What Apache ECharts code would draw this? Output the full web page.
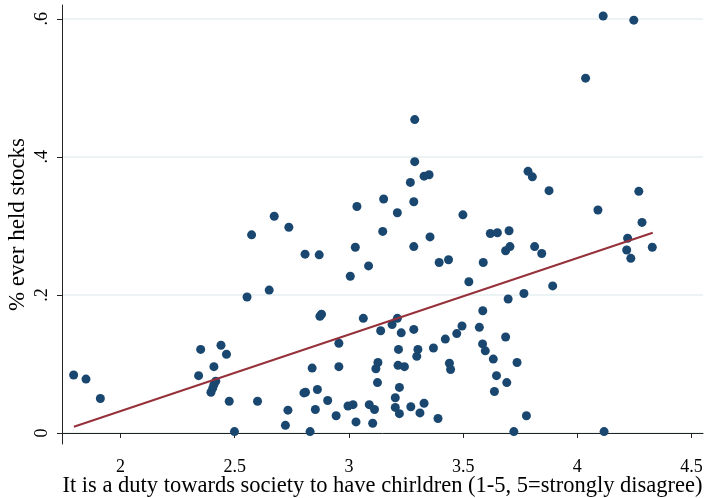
<!DOCTYPE html>
<html lang="en">
<head>
    <meta charset="UTF-8">
    <title>Stocks vs duty to have children</title>
    <script src="https://cdn.jsdelivr.net/npm/echarts@6/dist/echarts.min.js"></script>
    <style>
        html, body { margin: 0; padding: 0; background: #fff; }
        #main { width: 704px; height: 498px; }
    </style>
</head>
<body>
<div id="main"></div>
<script>
// duty score (x) and share ever held stocks (y)
var dutyX = [1.795, 1.849, 1.912, 2.342, 2.351, 2.409, 2.417, 2.409, 2.404, 2.396,
    2.440, 2.464, 2.476, 2.499, 2.554, 2.574, 2.600, 2.651, 2.673, 2.737,
    2.722, 2.733, 2.803, 2.810, 2.808, 2.830, 2.839, 2.853, 2.862, 2.870,
    2.873, 2.880, 2.907, 2.944, 2.956, 2.956, 2.996, 3.018, 3.006, 3.028,
    3.031, 3.035, 3.063, 3.086, 3.089, 3.104, 3.112, 3.127, 3.118, 3.125,
    3.139, 3.148, 3.152, 3.189, 3.212, 3.203, 3.203, 3.221, 3.212, 3.217,
    3.215, 3.243, 3.221, 3.229, 3.269, 3.271, 3.284, 3.284, 3.284, 3.288,
    3.288, 3.297, 3.302, 3.311, 3.329, 3.329, 3.351, 3.355, 3.370, 3.390,
    3.395, 3.436, 3.422, 3.440, 3.445, 3.472, 3.495, 3.499, 3.525, 3.571,
    3.586, 3.585, 3.597, 3.588, 3.619, 3.650, 3.632, 3.637, 3.646, 3.686,
    3.705, 3.686, 3.691, 3.697, 3.701, 3.722, 3.736, 3.766, 3.777, 3.784,
    3.803, 3.813, 3.844, 3.876, 3.892, 4.036, 4.090, 4.113, 4.117, 4.216,
    4.234, 4.220, 4.247, 4.269, 4.283, 4.328];
var stockY = [0.084, 0.078, 0.050, 0.083, 0.121, 0.096, 0.075, 0.070, 0.065, 0.059,
    0.127, 0.114, 0.046, 0.002, 0.197, 0.287, 0.046, 0.207, 0.314, 0.298,
    0.011, 0.033, 0.058, 0.059, 0.259, 0.002, 0.094, 0.034, 0.063, 0.258,
    0.169, 0.172, 0.047, 0.025, 0.130, 0.096, 0.039, 0.041, 0.227, 0.269,
    0.016, 0.328, 0.166, 0.242, 0.041, 0.014, 0.034, 0.102, 0.093, 0.073,
    0.148, 0.292, 0.339, 0.157, 0.166, 0.051, 0.037, 0.028, 0.319, 0.121,
    0.098, 0.096, 0.066, 0.145, 0.363, 0.038, 0.335, 0.270, 0.150, 0.454,
    0.393, 0.111, 0.121, 0.029, 0.043, 0.372, 0.374, 0.284, 0.123, 0.021,
    0.247, 0.251, 0.136, 0.101, 0.092, 0.144, 0.155, 0.316, 0.219, 0.153,
    0.177, 0.129, 0.119, 0.247, 0.289, 0.290, 0.107, 0.060, 0.083, 0.264,
    0.270, 0.139, 0.073, 0.194, 0.293, 0.002, 0.102, 0.202, 0.025, 0.379,
    0.371, 0.270, 0.260, 0.351, 0.213, 0.514, 0.323, 0.604, 0.002, 0.265,
    0.253, 0.282, 0.598, 0.350, 0.305, 0.269];

// fitted line end points
var fitX = [1.796, 4.330];
var fitY = [0.009, 0.290];

var xTicks = [2, 2.5, 3, 3.5, 4, 4.5];
var yTicks = [0, 0.2, 0.4, 0.6];
var yTickLabels = ['0', '.2', '.4', '.6'];

var points = [];
for (var i = 0; i < dutyX.length; i++) {
    points.push([dutyX[i], stockY[i]]);
}
var fitLine = [];
for (var j = 0; j < fitX.length; j++) {
    fitLine.push([fitX[j], fitY[j]]);
}

var serif = "'Liberation Serif', 'Times New Roman', serif";
var axisColor = '#222';

var option = {
    animation: false,
    backgroundColor: '#fff',
    grid: { left: 62, right: 1, top: 5, bottom: 54, outerBoundsMode: 'none', containLabel: false },
    xAxis: {
        type: 'value',
        min: 1.744,
        max: 4.55,
        name: 'It is a duty towards society to have chirldren (1-5, 5=strongly disagree)',
        nameLocation: 'middle',
        nameMoveOverlap: false,
        nameGap: 31,
        nameTextStyle: { fontFamily: serif, fontSize: 22.5, color: '#000' },
        axisLine: { show: true, lineStyle: { color: axisColor, width: 1 } },
        axisTick: { show: true, length: 5, customValues: xTicks, lineStyle: { color: axisColor } },
        axisLabel: {
            customValues: xTicks,
            margin: 14,
            fontFamily: serif, fontSize: 18, color: '#000',
            formatter: function (v) { return String(v); }
        },
        splitLine: { show: false }
    },
    yAxis: {
        type: 'value',
        min: -0.016,
        max: 0.62,
        name: '% ever held stocks',
        nameLocation: 'middle',
        nameMoveOverlap: false,
        nameGap: 33,
        nameTextStyle: { fontFamily: serif, fontSize: 23, color: '#000' },
        axisLine: { show: true, lineStyle: { color: axisColor, width: 1 } },
        axisTick: { show: true, length: 5, customValues: yTicks, lineStyle: { color: axisColor } },
        axisLabel: {
            customValues: yTicks,
            rotate: 90,
            margin: 11,
            fontFamily: serif, fontSize: 18, color: '#000',
            formatter: function (v) {
                var k = yTicks.indexOf(Math.round(v * 10) / 10);
                return k >= 0 ? yTickLabels[k] : '';
            }
        },
        splitLine: { show: true, lineStyle: { color: '#e6eff1', width: 1.5 } }
    },
    series: [
        {
            name: 'share',
            type: 'scatter',
            data: points,
            symbol: 'circle',
            symbolSize: 9,
            itemStyle: { color: '#1a476f', opacity: 1 },
            z: 3
        },
        {
            name: 'fit',
            type: 'line',
            data: fitLine,
            showSymbol: false,
            symbol: 'none',
            lineStyle: { color: '#96303a', width: 2 },
            z: 4
        }
    ]
};

var myChart = echarts.init(document.getElementById('main'));
myChart.setOption(option);
</script>
</body>
</html>
